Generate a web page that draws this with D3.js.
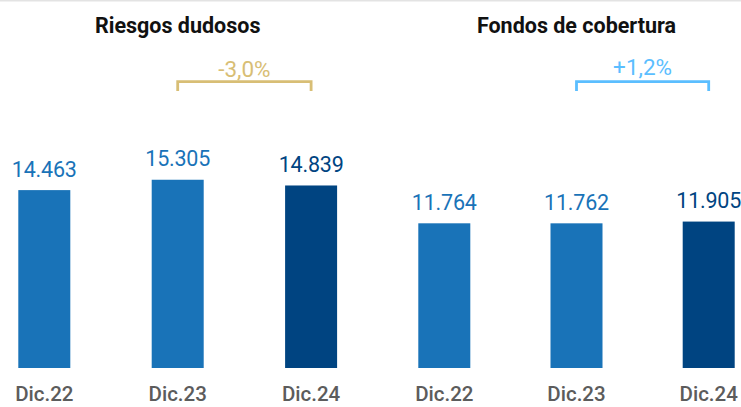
<!DOCTYPE html>
<html><head><meta charset="utf-8">
<script src="https://cdn.jsdelivr.net/npm/d3@7"></script>
<style>html,body{margin:0;padding:0;background:#fff;}svg{display:block;}</style>
</head><body>
<script>
const categories = ["Dic.22", "Dic.23", "Dic.24"];
const panelTitles = ["Riesgos dudosos", "Fondos de cobertura"];
const riesgosDudosos = [14463, 15305, 14839];
const fondosCobertura = [11764, 11762, 11905];
const changeLabels = ["-3,0%", "+1,2%"];

const W = 741, H = 407;
const fmt = v => d3.format(",")(v).replace(/,/g, ".");
const barColors = ["#1973B8", "#1973B8", "#004481"];
const changeColors = ["#D8BE75", "#5BBEFF"];

const svg = d3.select("body").append("svg").attr("width", W).attr("height", H);
svg.append("line").attr("x1", 0).attr("x2", W).attr("y1", 0.75).attr("y2", 0.75)
  .attr("stroke", "#e3e3e3").attr("stroke-width", 1.5);

const y = d3.scaleLinear().domain([0, 16000]).range([368, 171.2]);

const panels = [
  {title: panelTitles[0], values: riesgosDudosos, change: changeLabels[0], start: 18.3, step: 133.4, pctY: 77},
  {title: panelTitles[1], values: fondosCobertura, change: changeLabels[1], start: 418.3, step: 132.2, pctY: 75}
];

panels.forEach((p, pi) => {
  const po = 0.13, pin = 1 - 52 / p.step;
  const r0 = p.start - p.step * po;
  const x = d3.scaleBand().domain(categories)
    .range([r0, r0 + p.step * (categories.length - pin + 2 * po)])
    .paddingInner(pin).paddingOuter(po);
  const g = svg.append("g");
  const cx = c => x(c) + x.bandwidth() / 2;
  const mid = (cx(categories[0]) + cx(categories[2])) / 2;

  g.append("text").attr("x", mid).attr("y", 33).attr("text-anchor", "middle")
    .attr("font-family", "Roboto").attr("font-weight", 700).attr("font-size", 21.5)
    .attr("fill", "#111").text(p.title);

  g.selectAll("rect").data(p.values).join("rect")
    .attr("x", (d, i) => x(categories[i])).attr("width", x.bandwidth())
    .attr("y", d => y(d)).attr("height", d => y(0) - y(d))
    .attr("fill", (d, i) => barColors[i]);

  g.selectAll("text.val").data(p.values).join("text").attr("class", "val")
    .attr("x", (d, i) => cx(categories[i])).attr("y", d => y(d) - 13.5)
    .attr("text-anchor", "middle").attr("font-family", "Roboto").attr("font-weight", 400)
    .attr("font-size", 21.5).attr("letter-spacing", -0.2)
    .attr("fill", (d, i) => barColors[i]).text(d => fmt(d));

  g.selectAll("text.cat").data(categories).join("text").attr("class", "cat")
    .attr("x", d => cx(d)).attr("y", 401).attr("text-anchor", "middle")
    .attr("font-family", "Roboto").attr("font-weight", 500).attr("font-size", 20.5)
    .attr("fill", "#5c5c5c").text(d => d);

  const bx1 = cx(categories[1]), bx2 = cx(categories[2]);
  g.append("path").attr("d", `M${bx1},91V81.7H${bx2}V91`)
    .attr("fill", "none").attr("stroke", changeColors[pi]).attr("stroke-width", 2.8);
  g.append("text").attr("x", (bx1 + bx2) / 2).attr("y", p.pctY).attr("text-anchor", "middle")
    .attr("font-family", "Roboto").attr("font-weight", 400).attr("font-size", 22.5)
    .attr("fill", changeColors[pi]).text(p.change);
});
</script>
</body></html>
